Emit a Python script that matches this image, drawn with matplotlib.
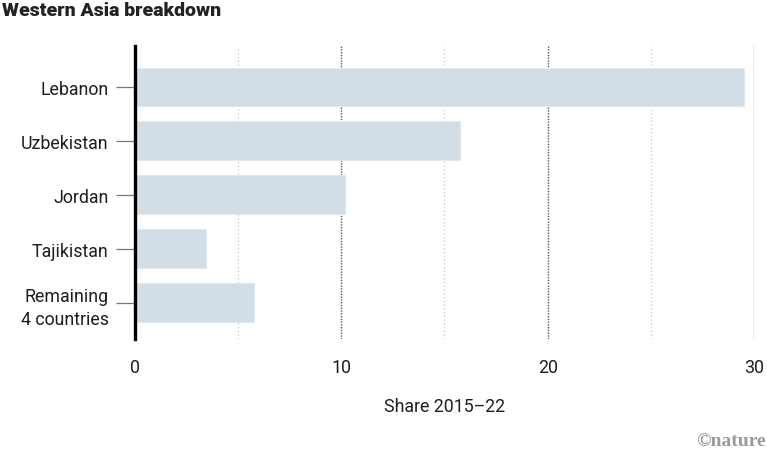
import matplotlib
matplotlib.use("Agg")
import matplotlib.pyplot as plt
import numpy as np

# data
countries = ["Lebanon", "Uzbekistan", "Jordan", "Tajikistan", "Remaining\n4 countries"]
share = [29.5, 15.75, 10.2, 3.45, 5.75]
xticks = [0, 10, 20, 30]

plt.rcParams['font.family'] = ['Roboto', 'DejaVu Sans']

fig = plt.figure(figsize=(7.67, 4.6), dpi=100)
ax = fig.add_axes([0.176, 0.261, 0.807, 0.637])

ypos = np.arange(len(countries))
ax.barh(ypos, share, height=0.72, color="#d3dde5", edgecolor="#e3eaef",
        linewidth=0.8, zorder=2)

ax.set_xlim(0, 30)
ax.set_ylim(4.67, -0.76)

# gridlines: light at 5s, darker at 10s
for v in [5, 15, 25]:
    ax.axvline(v, color="#c8c8c8", lw=0.9, ls=(0, (1, 2)), zorder=1)
for v in [10, 20, 30]:
    ax.axvline(v, color="#555555", lw=1.0, ls=(0, (1, 1)), zorder=1)

for s in ["top", "right", "bottom"]:
    ax.spines[s].set_visible(False)
ax.spines["left"].set_linewidth(2.4)
ax.spines["left"].set_color("black")
ax.spines["left"].set_zorder(3)

ax.set_yticks(ypos)
ax.set_yticklabels(countries, fontsize=12.8, color="#1e1e1e", linespacing=1.35)
ax.tick_params(axis="y", length=14, width=0.9, color="#777777", pad=5)
ax.set_xticks(xticks)
ax.set_xticklabels([str(t) for t in xticks], fontsize=12.8, color="#1e1e1e")
ax.tick_params(axis="x", length=0, pad=14)

ax.set_xlabel("Share 2015–22", fontsize=12.8, color="#1e1e1e", labelpad=15)

fig.text(0.002, 0.975, "Western Asia breakdown", fontsize=14, fontweight="black",
         color="#222222", ha="left", va="center")
fig.text(0.999, 0.04, "©nature", fontsize=14, fontweight="bold",
         color="#9a9a9a", ha="right", va="center",
         family=["Liberation Serif", "DejaVu Serif"])

fig.savefig("out.png", dpi=100)
